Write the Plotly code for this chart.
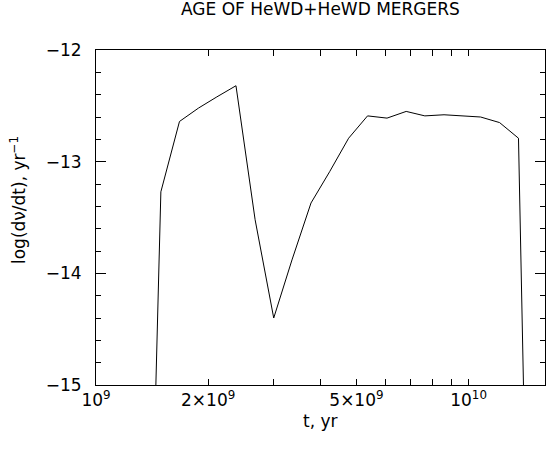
import plotly.graph_objects as go

# age of merger, yr
t_yr = [1.33e9, 1.493e9, 1.675e9, 1.884e9, 2.11e9, 2.375e9, 2.673e9, 2.999e9,
        3.357e9, 3.776e9, 4.236e9, 4.764e9, 5.355e9, 6.04e9, 6.80e9, 7.63e9,
        8.59e9, 9.62e9, 1.077e10, 1.211e10, 1.361e10, 1.528e10]
# log of merger rate, 1/yr
log_rate = [-19.74, -13.27, -12.64, -12.52, -12.42, -12.32, -13.52, -14.40,
            -13.88, -13.37, -13.09, -12.79, -12.59, -12.61, -12.55, -12.59,
            -12.58, -12.59, -12.60, -12.65, -12.79, -21.1]

x_tickvals = [1e9, 2e9, 3e9, 4e9, 5e9, 6e9, 7e9, 8e9, 9e9, 1e10]
x_ticktext = ['10<sup>9</sup>', '2×10<sup>9</sup>', '', '', '5×10<sup>9</sup>',
              '', '', '', '', '10<sup>10</sup>']

font = 'DejaVu Sans'

fig = go.Figure(
    data=go.Scatter(x=t_yr, y=log_rate, mode='lines',
                    line=dict(color='black', width=1), showlegend=False),
    layout=go.Layout(
        width=546,
        height=453,
        margin=dict(l=96, r=1, t=50, b=68),
        paper_bgcolor='white',
        plot_bgcolor='white',
        font=dict(family=font, size=17, color='black'),
        xaxis=dict(
            type='log', range=[9, 10.205],
            showgrid=False, zeroline=False,
            showline=True, linecolor='black', linewidth=1, mirror='ticks',
            ticks='inside', ticklen=6, tickcolor='black',
            tickmode='array', tickvals=x_tickvals, ticktext=x_ticktext,
            tickfont=dict(size=17),
        ),
        yaxis=dict(
            range=[-15, -12],
            showgrid=False, zeroline=False,
            showline=True, linecolor='black', linewidth=1, mirror='ticks',
            ticks='inside', ticklen=10, tickcolor='black',
            tickmode='linear', tick0=-15, dtick=1,
            ticklabelstandoff=10,
            minor=dict(tickmode='linear', dtick=0.2, ticks='inside',
                       ticklen=5, tickcolor='black'),
            tickfont=dict(size=17),
        ),
        annotations=[
            dict(text='AGE OF HeWD+HeWD MERGERS',
                 xref='paper', yref='paper', x=0.5, y=(385 - 9) / 335,
                 showarrow=False, xanchor='center', yanchor='middle'),
            dict(text='log(dν/dt), yr<sup>−1</sup>', textangle=-90,
                 xref='paper', yref='paper', x=(18 - 96) / 449, y=(385 - 200) / 335,
                 showarrow=False, xanchor='center', yanchor='middle'),
            dict(text='t, yr', xref='paper', yref='paper', x=0.5, y=(385 - 421) / 335,
                 showarrow=False, xanchor='center', yanchor='middle'),
        ],
    )
)

# drop the page's default body margin so the figure fills the window
fig.write_html("out.html", config={'displayModeBar': False},
               post_script="document.body.style.margin = '0';")
